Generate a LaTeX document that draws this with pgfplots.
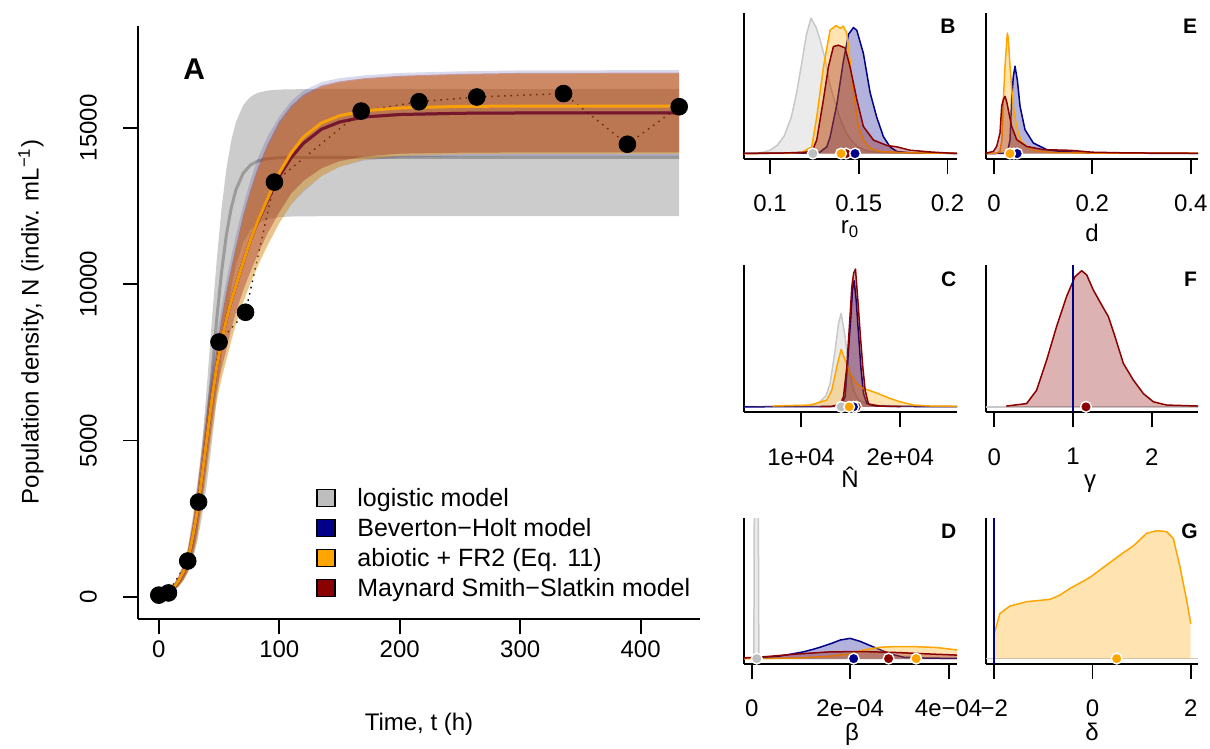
\documentclass[border=0pt]{standalone}
\usepackage{fontspec}
\setmainfont{Liberation Sans}
\usepackage{pgfplots}
\pgfplotsset{compat=1.18}
\usepackage{pgfplotstable}

\definecolor{dblue}{RGB}{0,0,139}
\definecolor{orng}{RGB}{255,165,0}
\definecolor{dred}{RGB}{139,0,0}
\definecolor{lgray}{RGB}{190,190,190}
\definecolor{lgline}{RGB}{200,200,200}
\definecolor{gline}{RGB}{155,155,155}

\newcommand{\fs}{\fontsize{12bp}{14bp}\selectfont}
\newcommand{\fb}{\fontsize{10.5bp}{12bp}\selectfont\bfseries}

\pgfplotstableread{
t    gl     ol     rl
0    59     40     40
4    97     70     70
8    159    140    140
12   260    300    300
16   424    500    500
20   685    780    780
24   1096   1150   1150
28   1720   1900   1900
32   2626   2750   2750
36   3861   3900   3900
40   5404   5100   5100
44   7130   6300   6300
48   8844   7350   7350
52   10353  8150   8150
56   11549  8850   8850
60   12418  9450   9450
64   13013  9950   9950
70   13541  10700  10700
76   13805  11400  11400
82   13933  12000  11980
90   14007  12700  12650
100  14040  13550  13450
110  14048  14200  14050
120  14050  14700  14500
135  14050  15150  14950
150  14050  15380  15180
170  14050  15540  15340
200  14050  15630  15420
250  14050  15680  15460
300  14050  15690  15470
432  14050  15690  15470
}\mainA

\pgfplotstableread{
t   N
0   60
8   130
24  1150
33  3035
50  8150
72  9100
96  13260
168 15530
216 15830
264 15980
336 16090
389 14470
432 15670
}\obs

\pgfplotsset{
  base/.style={scale only axis, axis x line*=bottom, axis y line*=left,
    tick align=outside, major tick length=7.5bp,
    axis line style={line width=0.9bp, black},
    tick style={line width=0.9bp, black},
    scaled ticks=false, tick label style={font=\fs}, clip=true,
    anchor=south west},
  panel/.style={base, ymin=-4, ymax=104, ytick=\empty, xticklabel shift=7bp},
  dfill/.style={draw=none, fill=#1, fill opacity=0.3, forget plot},
  dline/.style={draw=#1, line width=0.75bp, line join=round, line cap=round, forget plot},
  med/.style={only marks, mark=*, mark size=2.7bp, mark options={solid, fill=#1, draw=white, line width=0.7bp}},
}

\begin{document}
\begin{tikzpicture}[font=\fs]
\useasboundingbox (0,0) rectangle (605bp,374.5bp);

%================ Panel A
\begin{axis}[base, at={(69bp,65bp)}, width=281bp, height=296.5bp,
  xmin=-17.28, xmax=449.28, ymin=-703, ymax=18250,
  xtick={0,100,200,300,400}, xticklabels={0,100,200,300,400},
  ytick={0,5000,10000,15000}, yticklabels={0,5000,10000,15000},
  yticklabel shift=9.5bp,
  yticklabel style={rotate=90, anchor=south}]
\addplot[black, line width=0.7bp, dash pattern=on 0.8bp off 2.4bp] table[x=t,y=N]{\obs};
\addplot[only marks, mark=*, mark size=4.2bp, black] table[x=t,y=N]{\obs};
% gray band
\addplot[fill=black, fill opacity=0.2, draw=none] coordinates {(0,78)(4,129)(8,211)(12,345)(16,561)(20,904)(24,1439)(28,2243)(32,3393)(36,4927)(40,6788)(44,8800)(48,10734)(52,12386)(56,13658)(60,14566)(64,15179)(70,15718)(76,15983)(82,16113)(90,16186)(100,16217)(110,16227)(120,16230)(432,16230)
 (432,12170)(135,12170)(120,12167)(110,12161)(100,12142)(90,12080)(82,11947)(76,11735)(70,11330)(64,10605)(60,9863)(56,8880)(52,7670)(48,6308)(44,4923)(40,3653)(36,2593)(32,1777)(28,1185)(24,776)(20,501)(16,322)(12,205)(8,130)(4,83)(0,52)} -- cycle;
\addplot[gline, line width=1.5bp] table[x=t,y=gl]{\mainA};
% blue band
\addplot[fill=dblue, fill opacity=0.15, draw=none] coordinates {(0,52)(4,90)(8,190)(12,390)(16,650)(20,1030)(24,1580)(28,2520)(32,3680)(36,4930)(40,6200)(44,7300)(48,8300)(52,9250)(56,10100)(60,10850)(64,11550)(70,12500)(76,13300)(82,14000)(90,14700)(100,15350)(110,15850)(120,16180)(135,16460)(150,16580)(170,16670)(200,16750)(250,16800)(300,16830)(432,16840)
 (432,14090)(300,14090)(250,14080)(200,14050)(170,13950)(150,13750)(135,13450)(120,12950)(110,12550)(100,11950)(90,11250)(82,10600)(76,10050)(70,9450)(64,8750)(60,8200)(56,7600)(52,7000)(48,6300)(44,5250)(40,4100)(36,2950)(32,1950)(28,1230)(24,780)(20,510)(16,320)(12,190)(8,100)(4,52)(0,28)} -- cycle;
% orange band
\addplot[fill=orng, fill opacity=0.4, draw=none] coordinates {(0,48)(4,82)(8,175)(12,360)(16,600)(20,950)(24,1450)(28,2300)(32,3400)(36,4600)(40,5800)(44,6850)(48,7850)(52,8800)(56,9650)(60,10400)(64,11100)(70,12100)(76,12900)(82,13600)(90,14350)(100,15100)(110,15620)(120,15980)(135,16300)(150,16440)(170,16550)(200,16630)(250,16690)(300,16720)(432,16730)
 (432,14160)(300,14160)(250,14150)(200,14100)(170,13980)(150,13750)(135,13450)(120,13000)(110,12550)(100,11950)(90,11200)(82,10550)(76,10000)(70,9400)(64,8700)(60,8150)(56,7550)(52,6950)(48,6250)(44,5200)(40,4050)(36,2900)(32,1900)(28,1200)(24,760)(20,500)(16,315)(12,185)(8,98)(4,50)(0,27)} -- cycle;
% red band
\addplot[fill=dred, fill opacity=0.3, draw=none] coordinates {(0,50)(4,85)(8,180)(12,370)(16,620)(20,980)(24,1500)(28,2400)(32,3500)(36,4700)(40,5900)(44,6950)(48,7950)(52,8900)(56,9750)(60,10500)(64,11200)(70,12200)(76,13000)(82,13700)(90,14450)(100,15200)(110,15700)(120,16050)(135,16350)(150,16480)(170,16580)(200,16660)(250,16720)(300,16750)(432,16760)
 (432,14210)(300,14210)(250,14200)(200,14170)(170,14080)(150,13930)(135,13700)(120,13300)(110,12900)(100,12300)(90,11600)(82,10950)(76,10400)(70,9800)(64,9100)(60,8550)(56,7900)(52,7300)(48,6600)(44,5500)(40,4300)(36,3100)(32,2050)(28,1300)(24,820)(20,540)(16,340)(12,200)(8,105)(4,55)(0,30)} -- cycle;
% lines
\addplot[dblue, line width=1.5bp, opacity=0.5] table[x=t,y=rl]{\mainA};
\addplot[dred, line width=1.5bp, opacity=0.6] table[x=t,y=rl]{\mainA};
\addplot[orng, line width=1.5bp, opacity=0.9] table[x=t,y=ol]{\mainA};
\end{axis}

%================ Panel B (r0)
\begin{axis}[panel, at={(372bp,295bp)}, width=106.5bp, height=73.15bp,
  xmin=0.0853, xmax=0.2054, xtick={0.1,0.15,0.2}, xticklabels={0.1,0.15,0.2}]
\addplot[dfill=lgray] coordinates {(0.0853,0) (0.092,0.3) (0.097,1.2) (0.100,2.5) (0.104,6) (0.108,13) (0.112,27) (0.115,45) (0.118,68) (0.1205,88) (0.1231,100) (0.126,93) (0.1282,84) (0.131,70) (0.1335,52) (0.137,36) (0.140,24) (0.143,15) (0.147,8) (0.150,4.5) (0.155,2) (0.160,1) (0.170,0.3) (0.2054,0)} \closedcycle;
\addplot[dline=lgline] coordinates {(0.0853,0) (0.092,0.3) (0.097,1.2) (0.100,2.5) (0.104,6) (0.108,13) (0.112,27) (0.115,45) (0.118,68) (0.1205,88) (0.1231,100) (0.126,93) (0.1282,84) (0.131,70) (0.1335,52) (0.137,36) (0.140,24) (0.143,15) (0.147,8) (0.150,4.5) (0.155,2) (0.160,1) (0.170,0.3) (0.2054,0)};
\addplot[dfill=dblue] coordinates {(0.0853,0) (0.12,0.3) (0.128,1) (0.132,5) (0.1338,12) (0.1376,36) (0.1413,68) (0.1442,88) (0.147,93) (0.1489,91) (0.1526,74) (0.1564,45) (0.1601,27) (0.1639,12.5) (0.1676,5) (0.1714,1.5) (0.18,0.5) (0.2054,0)} \closedcycle;
\addplot[dline=dblue] coordinates {(0.0853,0.2) (0.12,0.3) (0.128,1) (0.132,5) (0.1338,12) (0.1376,36) (0.1413,68) (0.1442,88) (0.147,93) (0.1489,91) (0.1526,74) (0.1564,45) (0.1601,27) (0.1639,12.5) (0.1676,5) (0.1714,1.5) (0.18,0.5) (0.2054,0.2)};
\addplot[dfill=orng] coordinates {(0.0853,0) (0.11,0.2) (0.118,1) (0.1235,5) (0.1263,27) (0.1301,64) (0.1338,91) (0.1372,94.5) (0.1395,92.5) (0.1413,94) (0.1432,89) (0.1451,69) (0.147,45) (0.1498,20) (0.1526,10) (0.1564,4) (0.162,1.5) (0.18,0.5) (0.2054,0)} \closedcycle;
\addplot[dline=orng] coordinates {(0.0853,0) (0.11,0.2) (0.118,1) (0.1235,5) (0.1263,27) (0.1301,64) (0.1338,91) (0.1372,94.5) (0.1395,92.5) (0.1413,94) (0.1432,89) (0.1451,69) (0.147,45) (0.1498,20) (0.1526,10) (0.1564,4) (0.162,1.5) (0.18,0.5) (0.2054,0.2)};
\addplot[dfill=dred] coordinates {(0.0853,0) (0.105,0.3) (0.12,1) (0.1241,3) (0.1263,10) (0.1301,40) (0.1329,64) (0.1357,79) (0.1385,80) (0.1423,78) (0.1451,64) (0.1489,40) (0.1526,20) (0.1583,10) (0.1658,6) (0.1714,5) (0.1789,2.5) (0.1902,1.2) (0.2015,0.3) (0.2054,0)} \closedcycle;
\addplot[dline=dred] coordinates {(0.0853,0.2) (0.105,0.3) (0.12,1) (0.1241,3) (0.1263,10) (0.1301,40) (0.1329,64) (0.1357,79) (0.1385,80) (0.1423,78) (0.1451,64) (0.1489,40) (0.1526,20) (0.1583,10) (0.1658,6) (0.1714,5) (0.1789,2.5) (0.1902,1.2) (0.2015,0.3) (0.2054,0.2)};
\addplot[med=lgray] coordinates {(0.1241,0)};
\addplot[med=dred] coordinates {(0.1428,0)};
\addplot[med=dblue] coordinates {(0.1479,0)};
\addplot[med=orng] coordinates {(0.1400,0)};
\end{axis}

%================ Panel E (d)
\begin{axis}[panel, at={(493bp,295bp)}, width=106bp, height=73.15bp,
  xmin=-0.0163, xmax=0.4149, xtick={0,0.2,0.4}, xticklabels={0,0.2,0.4}]
\addplot[dfill=dblue] coordinates {(-0.0163,0) (0.02,0.1) (0.028,2) (0.0325,10) (0.0359,40) (0.0393,57) (0.0427,64.5) (0.0475,54) (0.0529,35) (0.063,17.6) (0.08,7.8) (0.107,2.9) (0.134,1.6) (0.2,0.4) (0.4149,0)} \closedcycle;
\addplot[dline=dblue] coordinates {(-0.0163,0) (0.02,0.1) (0.028,2) (0.0325,10) (0.0359,40) (0.0393,57) (0.0427,64.5) (0.0475,54) (0.0529,35) (0.063,17.6) (0.08,7.8) (0.107,2.9) (0.134,1.6) (0.2,0.4) (0.4149,0.1)};
\addplot[dfill=orng] coordinates {(-0.0163,0) (0,0.1) (0.006,0.4) (0.012,1.6) (0.016,10) (0.019,40) (0.0224,64.5) (0.0271,89) (0.029,85) (0.0325,64.5) (0.036,48) (0.0393,35) (0.044,24) (0.0495,15) (0.056,9) (0.0664,5.3) (0.08,2.5) (0.0936,1.6) (0.12,0.8) (0.2,0.4) (0.4149,0)} \closedcycle;
\addplot[dline=orng] coordinates {(-0.0163,0) (0,0.1) (0.006,0.4) (0.012,1.6) (0.016,10) (0.019,40) (0.0224,64.5) (0.0271,89) (0.029,85) (0.0325,64.5) (0.036,48) (0.0393,35) (0.044,24) (0.0495,15) (0.056,9) (0.0664,5.3) (0.08,2.5) (0.0936,1.6) (0.12,0.8) (0.2,0.4) (0.4149,0.3)};
\addplot[dfill=dred] coordinates {(-0.0163,0) (-0.0014,1.6) (0.0054,5.3) (0.0122,15.2) (0.0156,35) (0.019,40) (0.0224,42.3) (0.026,38) (0.029,32.4) (0.0359,20) (0.0461,10.3) (0.066,5.3) (0.1,2.9) (0.155,2.4) (0.2,1) (0.27,0.5) (0.4149,0)} \closedcycle;
\addplot[dline=dred] coordinates {(-0.0163,0.3) (-0.0014,1.6) (0.0054,5.3) (0.0122,15.2) (0.0156,35) (0.019,40) (0.0224,42.3) (0.026,38) (0.029,32.4) (0.0359,20) (0.0461,10.3) (0.066,5.3) (0.1,2.9) (0.155,2.4) (0.2,1) (0.27,0.5) (0.4149,0.2)};
\addplot[med=dred] coordinates {(0.040,0)};
\addplot[med=dblue] coordinates {(0.047,0)};
\addplot[med=orng] coordinates {(0.0325,0)};
\end{axis}

%================ Panel C (N hat)
\begin{axis}[panel, at={(372bp,168.35bp)}, width=106.5bp, height=73.65bp,
  xmin=4242, xmax=25727, xtick={10000,20000}, xticklabels={1e+04,2e+04}]
\addplot[dfill=lgray] coordinates {(4242,0) (10000,0.3) (11246,1.3) (11919,3.8) (12500,8) (12929,17.2) (13434,41.6) (13771,61) (14040,68.5) (14444,51.4) (14781,29.3) (15286,12.2) (15791,4.9) (16633,2.4) (18000,1) (22000,0.3) (25727,0)} \closedcycle;
\addplot[dline=lgline] coordinates {(4242,0.2) (10000,0.3) (11246,1.3) (11919,3.8) (12500,8) (12929,17.2) (13434,41.6) (13771,61) (14040,68.5) (14444,51.4) (14781,29.3) (15286,12.2) (15791,4.9) (16633,2.4) (18000,1) (22000,0.3) (25727,0.1)};
\addplot[dfill=dblue] coordinates {(4242,0) (13500,0.3) (14108,2.4) (14444,7.4) (14781,41.6) (15017,65.8) (15185,85.7) (15353,92.5) (15555,78.3) (15791,53.8) (16027,29.3) (16296,9.7) (16633,2.4) (17500,0.6) (20000,0.3) (25727,0)} \closedcycle;
\addplot[dline=dblue] coordinates {(4242,0) (13500,0.3) (14108,2.4) (14444,7.4) (14781,41.6) (15017,65.8) (15185,85.7) (15353,92.5) (15555,78.3) (15791,53.8) (16027,29.3) (16296,9.7) (16633,2.4) (17500,0.6) (20000,0.3) (25727,0.1)};
\addplot[dfill=orng] coordinates {(4242,0) (7205,0.6) (10909,1.3) (12592,4.9) (13098,12.2) (13603,29.3) (14040,42.2) (14444,34.2) (14950,24.4) (15623,17) (16296,13.4) (17306,11) (18148,8.6) (18990,6.1) (20000,3.7) (21347,1.3) (23000,0.6) (25727,0)} \closedcycle;
\addplot[dline=orng] coordinates {(7205,0.6) (10909,1.3) (12592,4.9) (13098,12.2) (13603,29.3) (14040,42.2) (14444,34.2) (14950,24.4) (15623,17) (16296,13.4) (17306,11) (18148,8.6) (18990,6.1) (20000,3.7) (21347,1.3) (23000,0.6) (25727,0.4)};
\addplot[dfill=dred] coordinates {(4242,0) (13000,0.2) (13940,1.8) (14276,7.4) (14613,29.3) (14950,68) (15118,88) (15300,98) (15488,101) (15724,78) (15960,54) (16229,29) (16465,12) (16801,2) (18000,0.5) (25727,0)} \closedcycle;
\addplot[dline=dred] coordinates {(12000,0.1) (13000,0.2) (13940,1.8) (14276,7.4) (14613,29.3) (14950,68) (15118,88) (15300,98) (15488,101) (15724,78) (15960,54) (16229,29) (16465,12) (16801,2) (18000,0.5) (20000,0.2)};
\addplot[med=lgray] coordinates {(14040,0)};
\addplot[med=dred] coordinates {(15555,0)};
\addplot[med=dblue] coordinates {(15286,0)};
\addplot[med=orng] coordinates {(14849,0)};
\end{axis}

%================ Panel F (gamma)
\begin{axis}[panel, at={(493bp,168.35bp)}, width=106bp, height=73.65bp,
  xmin=-0.105, xmax=2.588, xtick={0,1,2}, xticklabels={0,1,2}]
\addplot[dline=lgline] coordinates {(-0.105,0) (2.588,0)};
\addplot[dfill=dred] coordinates {(0.157,0) (0.157,0.6) (0.411,2.4) (0.538,12.2) (0.665,34.2) (0.792,59) (0.919,81) (1.025,95.4) (1.11,99.8) (1.174,96.7) (1.258,85.7) (1.364,74.7) (1.449,66.2) (1.534,51.4) (1.64,31.8) (1.767,19.6) (1.894,9.7) (2.021,3.7) (2.19,1.3) (2.588,0.6) (2.588,0)} \closedcycle;
\addplot[dline=dred] coordinates {(0.157,0.6) (0.411,2.4) (0.538,12.2) (0.665,34.2) (0.792,59) (0.919,81) (1.025,95.4) (1.11,99.8) (1.174,96.7) (1.258,85.7) (1.364,74.7) (1.449,66.2) (1.534,51.4) (1.64,31.8) (1.767,19.6) (1.894,9.7) (2.021,3.7) (2.19,1.3) (2.588,0.6)};
\addplot[dblue, line width=0.9bp, forget plot] coordinates {(1,-4) (1,104)};
\addplot[med=dred] coordinates {(1.165,0)};
\end{axis}

%================ Panel D (beta)
\begin{axis}[panel, at={(372bp,42.5bp)}, width=106.5bp, height=72.85bp,
  xmin=-1.57e-5, xmax=4.17e-4, xtick={0,2e-4,4e-4}, xticklabels={0,2e−04,4e−04}]
\addplot[dfill=lgray] coordinates {(-1.57e-5,0) (4.3e-6,0) (5.5e-6,150) (1.3e-5,150) (1.45e-5,0) (4.17e-4,0)} \closedcycle;
\addplot[dline=lgline] coordinates {(-1.57e-5,0) (4.3e-6,0) (5.5e-6,150) (1.3e-5,150) (1.45e-5,0) (4.17e-4,0)};
\addplot[dfill=dblue] coordinates {(-1.57e-5,0) (-1.57e-5,0.3) (5e-5,1.5) (7.8e-5,3.2) (1.05e-4,5) (1.3e-4,7.4) (1.6e-4,11) (1.8e-4,13.8) (2.0e-4,15) (2.2e-4,12.8) (2.54e-4,7.6) (2.82e-4,3.4) (3.09e-4,1) (3.6e-4,0.3) (4.17e-4,0.2) (4.17e-4,0)} \closedcycle;
\addplot[dline=dblue] coordinates {(-1.57e-5,0.3) (5e-5,1.5) (7.8e-5,3.2) (1.05e-4,5) (1.3e-4,7.4) (1.6e-4,11) (1.8e-4,13.8) (2.0e-4,15) (2.2e-4,12.8) (2.54e-4,7.6) (2.82e-4,3.4) (3.09e-4,1) (3.6e-4,0.3) (4.17e-4,0.2)};
\addplot[dfill=orng] coordinates {(-1.57e-5,0) (1e-4,0.5) (1.59e-4,1.8) (2e-4,3.5) (2.27e-4,6.4) (2.61e-4,8.4) (2.9e-4,8.9) (3.29e-4,8.9) (3.76e-4,8.2) (4.17e-4,6.4) (4.17e-4,0)} \closedcycle;
\addplot[dline=orng] coordinates {(-1.57e-5,0) (1e-4,0.5) (1.59e-4,1.8) (2e-4,3.5) (2.27e-4,6.4) (2.61e-4,8.4) (2.9e-4,8.9) (3.29e-4,8.9) (3.76e-4,8.2) (4.17e-4,6.4)};
\addplot[dfill=dred] coordinates {(-1.57e-5,0) (-1.57e-5,0.5) (3e-5,1.5) (9.2e-5,3.4) (1.59e-4,5) (2.27e-4,5.2) (2.95e-4,4.5) (3.63e-4,3.4) (4.17e-4,2.6) (4.17e-4,0)} \closedcycle;
\addplot[dline=dred] coordinates {(-1.57e-5,0.5) (3e-5,1.5) (9.2e-5,3.4) (1.59e-4,5) (2.27e-4,5.2) (2.95e-4,4.5) (3.63e-4,3.4) (4.17e-4,2.6)};
\addplot[med=lgray] coordinates {(1.02e-5,0)};
\addplot[med=dred] coordinates {(2.78e-4,0)};
\addplot[med=dblue] coordinates {(2.07e-4,0)};
\addplot[med=orng] coordinates {(3.34e-4,0)};
\end{axis}

%================ Panel G (delta)
\begin{axis}[panel, at={(493bp,42.5bp)}, width=106bp, height=72.85bp,
  xmin=-2.169, xmax=2.149, xtick={-2,0,2}, xticklabels={−2,0,2}]
\addplot[dline=lgline] coordinates {(-2.169,0) (2.149,0)};
\addplot[dfill=orng] coordinates {(-2,0) (-2,18.8) (-1.885,33.5) (-1.68,39) (-1.341,42.2) (-0.866,43.9) (-0.663,47.1) (-0.459,52) (-0.052,60.2) (0.288,69.4) (0.627,78.5) (0.831,83.5) (1.103,92.9) (1.306,94.8) (1.51,94.1) (1.646,89.1) (1.781,68.1) (1.917,43.4) (2,26.1) (2,0)} \closedcycle;
\addplot[dline=orng] coordinates {(-2,18.8) (-1.885,33.5) (-1.68,39) (-1.341,42.2) (-0.866,43.9) (-0.663,47.1) (-0.459,52) (-0.052,60.2) (0.288,69.4) (0.627,78.5) (0.831,83.5) (1.103,92.9) (1.306,94.8) (1.51,94.1) (1.646,89.1) (1.781,68.1) (1.917,43.4) (2,26.1)};
\addplot[dblue, line width=0.9bp, forget plot] coordinates {(-2,-4) (-2,104)};
\addplot[med=orng] coordinates {(0.492,0)};
\end{axis}

%================ labels
\node[font=\fontsize{15bp}{17bp}\selectfont\bfseries] at (97.1bp,339.9bp) {A};
\node[anchor=east, inner sep=0pt, font=\fb] at (478bp,361.2bp) {B};
\node[anchor=east, inner sep=0pt, font=\fb] at (598.7bp,361.2bp) {E};
\node[anchor=east, inner sep=0pt, font=\fb] at (478.3bp,234.8bp) {C};
\node[anchor=east, inner sep=0pt, font=\fb] at (598.7bp,234.8bp) {F};
\node[anchor=east, inner sep=0pt, font=\fb] at (478.3bp,108.7bp) {D};
\node[anchor=east, inner sep=0pt, font=\fb] at (599bp,108.7bp) {G};

\node[anchor=base] at (209.5bp,9.5bp) {Time, t (h)};
\node[rotate=90] at (15.5bp,213.5bp) {Population density, N (indiv. mL\textsuperscript{−1})};

\node[anchor=base, inner sep=0pt] at (425bp,257.5bp) {r\textsubscript{0}};
\node[anchor=base, inner sep=0pt] at (546bp,253.5bp) {d};
\node[anchor=base, inner sep=0pt] at (425bp,130.5bp) {\^{N}};
\node[anchor=base, inner sep=0pt] at (545bp,130.5bp) {γ};
\node[anchor=base, inner sep=0pt] at (426bp,4.5bp) {β};
\node[anchor=base, inner sep=0pt] at (546bp,4.5bp) {δ};

% legend
\filldraw[fill=lgray, draw=black, line width=0.6bp] (158.5bp,121.25bp) rectangle (167.5bp,129.75bp);
\filldraw[fill=dblue, draw=black, line width=0.6bp] (158.5bp,106.25bp) rectangle (167.5bp,114.75bp);
\filldraw[fill=orng, draw=black, line width=0.6bp] (158.5bp,91.25bp) rectangle (167.5bp,99.75bp);
\filldraw[fill=dred, draw=black, line width=0.6bp] (158.5bp,76.25bp) rectangle (167.5bp,84.75bp);
\begin{scope}[font=\fontsize{12.5bp}{14bp}\selectfont]
\node[anchor=base west, inner sep=0pt] at (178.5bp,121.2bp) {logistic model};
\node[anchor=base west, inner sep=0pt] at (178.5bp,106.2bp) {Beverton−Holt model};
\node[anchor=base west, inner sep=0pt] at (178.5bp,91.2bp) {abiotic + FR2 (Eq. 11)};
\node[anchor=base west, inner sep=0pt] at (178.5bp,76.2bp) {Maynard Smith−Slatkin model};
\end{scope}
\end{tikzpicture}
\end{document}
